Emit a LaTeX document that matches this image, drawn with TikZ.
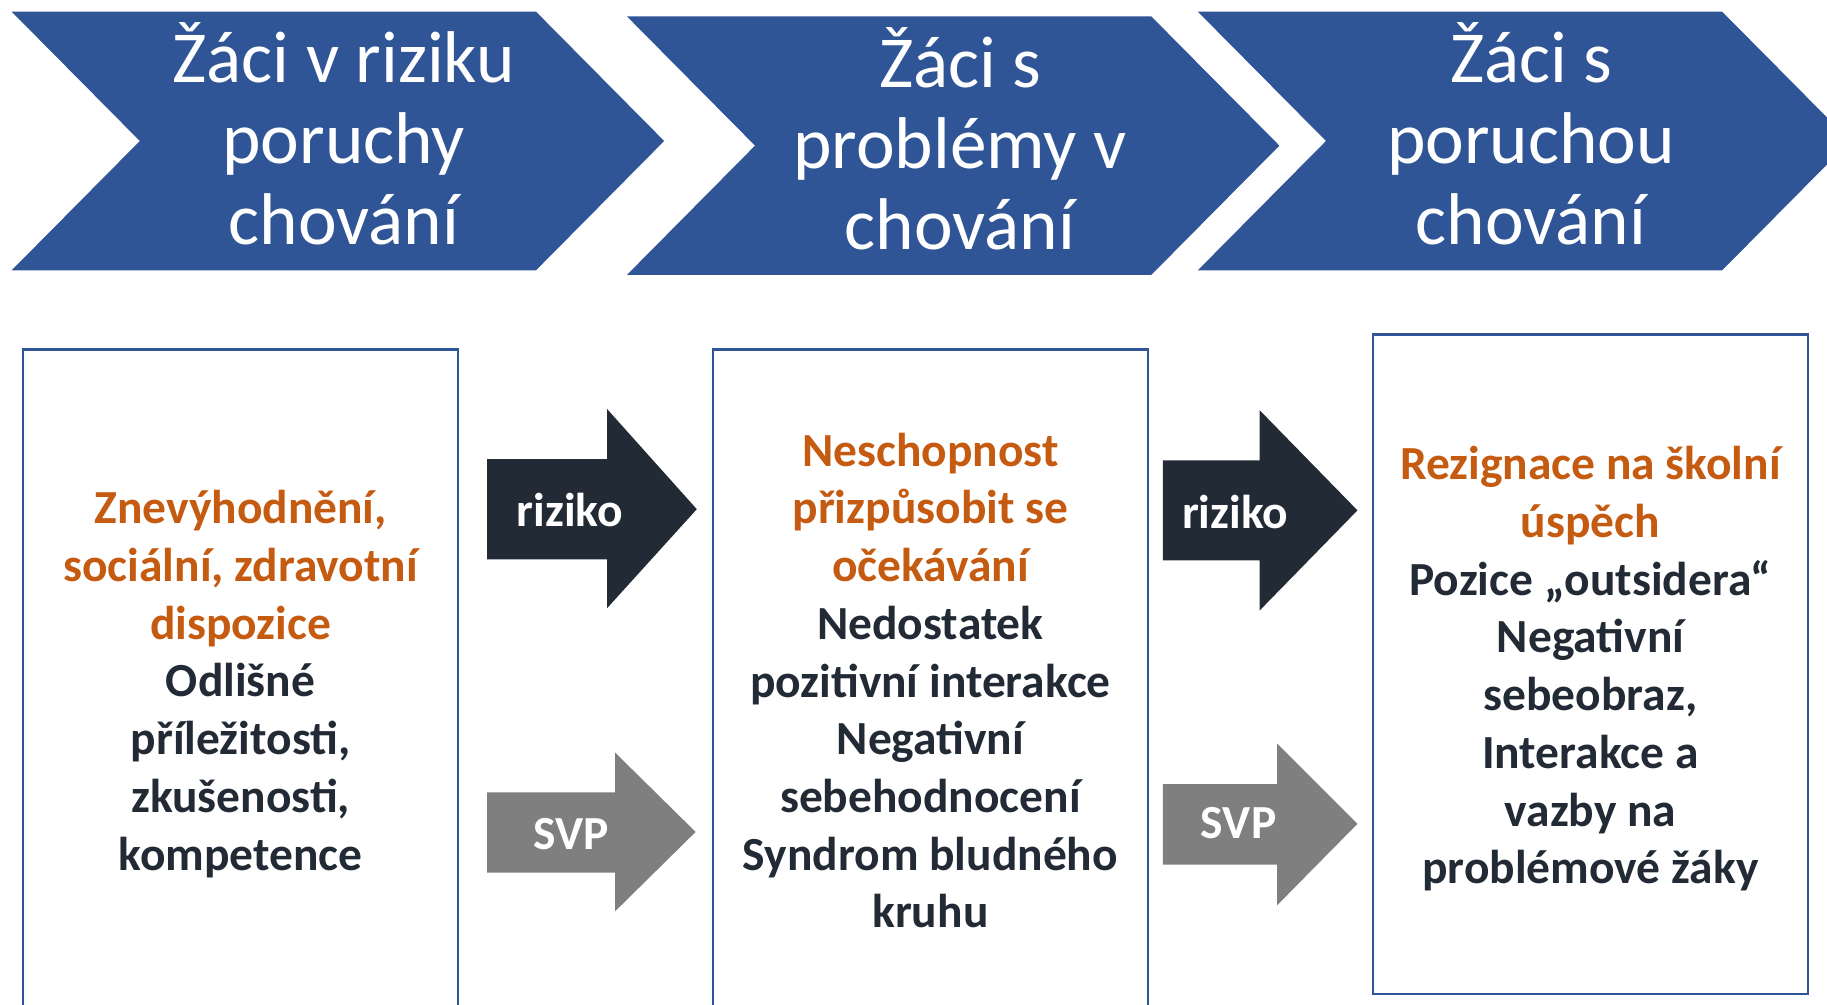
\documentclass[tikz,border=0pt]{standalone}
\usepackage{fontspec}
\setmainfont{Carlito}
\definecolor{stageblue}{HTML}{2F5597}
\definecolor{darktext}{HTML}{222A35}
\definecolor{orangetext}{HTML}{C55A11}
\definecolor{svpgray}{HTML}{7F7F7F}
\begin{document}
\begin{tikzpicture}[x=0.02cm,y=-0.02cm,
    stagetext/.style={text=white,align=center,inner sep=0pt,font=\fontsize{35.8}{39.5}\selectfont},
    infobox/.style={draw=stageblue,line width=1.1pt,minimum width=7.46cm,minimum height=11.32cm,inner sep=0pt},
    infotext/.style={align=center,inner sep=0pt,text=darktext,font=\bfseries\fontsize{23.2}{28.2}\selectfont},
    arrowtext/.style={text=white,inner sep=0pt,font=\bfseries\fontsize{23.2}{28.2}\selectfont}]
    \useasboundingbox (0,0) rectangle (1568,862);
    % chevrons
    \fill[stageblue] (10,10) -- (460,10) -- (570,121) -- (460,232) -- (10,232) -- (120,121) -- cycle;
    \fill[stageblue] (538,14) -- (988,14) -- (1098,125) -- (988,236) -- (538,236) -- (648,125) -- cycle;
    \fill[stageblue] (1028,10) -- (1478,10) -- (1588,121) -- (1478,232) -- (1028,232) -- (1138,121) -- cycle;
    \node[stagetext] (stage1) at (295,115) {Žáci v riziku\\poruchy\\chování};
    \node[stagetext] (stage2) at (824,119) {Žáci s\\problémy v\\chování};
    \node[stagetext] (stage3) at (1314,115) {Žáci s\\poruchou\\chování};
    % boxes
    \node[infobox] (box1) at (206.5,583) {};
    \node[infobox] (box2) at (798.5,583) {};
    \node[infobox] (box3) at (1365,570) {};
    \node[infotext] (text1) at ([yshift=-2.3pt]box1.center) {\textcolor{orangetext}{Znevýhodnění,}\\\textcolor{orangetext}{sociální, zdravotní}\\\textcolor{orangetext}{dispozice}\\Odlišné\\příležitosti,\\zkušenosti,\\kompetence};
    \node[infotext] (text2) at ([yshift=-0.6pt]box2.center) {\textcolor{orangetext}{Neschopnost}\\\textcolor{orangetext}{přizpůsobit se}\\\textcolor{orangetext}{očekávání}\\Nedostatek\\pozitivní interakce\\Negativní\\sebehodnocení\\Syndrom bludného\\kruhu};
    \node[infotext] (text3) at ([yshift=-2.3pt]box3.center) {\textcolor{orangetext}{Rezignace na školní}\\\textcolor{orangetext}{úspěch}\\Pozice „outsidera“\\Negativní\\sebeobraz,\\Interakce a\\vazby na\\problémové žáky};
    % arrows
    \fill[darktext] (418,394) -- (521,394) -- (521,351) -- (598,437) -- (521,522) -- (521,480) -- (418,480) -- cycle;
    \fill[svpgray] (418,680) -- (528,680) -- (528,646) -- (597,714) -- (528,782) -- (528,749) -- (418,749) -- cycle;
    \fill[darktext] (998,395) -- (1081,395) -- (1081,352) -- (1165,438) -- (1081,524) -- (1081,481) -- (998,481) -- cycle;
    \fill[svpgray] (998,673) -- (1096,673) -- (1096,638) -- (1165,707) -- (1096,777) -- (1096,742) -- (998,742) -- cycle;
    \node[arrowtext] (risk1) at (489,438) {riziko};
    \node[arrowtext] (svp1) at (490,716) {SVP};
    \node[arrowtext] (risk2) at (1060,439) {riziko};
    \node[arrowtext] (svp2) at (1063,706) {SVP};
\end{tikzpicture}
\end{document}
